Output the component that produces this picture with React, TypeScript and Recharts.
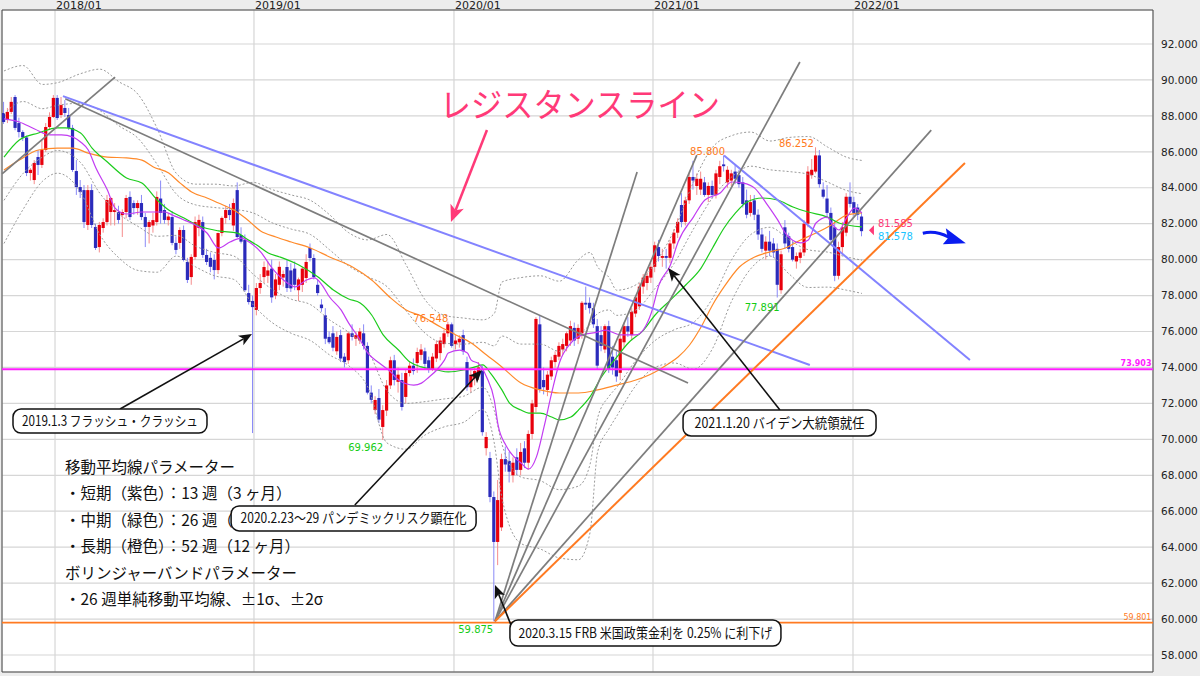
import React from "react";
import {
  ComposedChart,
  Bar,
  Line,
  XAxis,
  YAxis,
  CartesianGrid,
  ReferenceLine,
  ReferenceDot,
  ReferenceArea,
} from "recharts";

// weekly candles, oldest first (index 0 = first week shown)
const opens = [
  88.16, 87.77, 88.22, 89.05, 87.6, 87.1, 86.8, 84.82, 84.43, 85.71,
  85.27, 86.1, 87.38, 87.94, 89.0, 88.05, 88.44, 88.05, 87.33, 84.93,
  84.04, 83.87, 81.93, 83.87, 81.82, 80.7, 81.76, 82.09, 82.65, 82.65,
  82.65, 82.48, 82.65, 83.49, 83.15, 82.87, 83.15, 82.37, 81.82, 81.9,
  82.09, 83.4, 82.76, 82.2, 82.37, 80.93, 80.93, 81.65, 79.87, 79.03,
  80.15, 81.76, 82.09, 80.26, 80.1, 79.98, 79.42, 81.48, 82.32, 82.76,
  81.9, 83.87, 81.37, 81.1, 78.14, 77.7, 77.2, 78.42, 79.03, 79.1,
  79.5, 78.0, 78.6, 79.0, 79.59, 79.4, 79.5, 78.3, 78.6, 78.98,
  80.65, 80.09, 78.6, 77.5, 76.9, 75.7, 75.9, 74.9, 75.8, 74.6,
  74.4, 75.9, 75.6, 75.5, 75.9, 75.2, 72.6, 71.63, 72.3, 70.69,
  71.6, 73.0, 74.4, 73.2, 73.3, 72.36, 73.69, 74.1, 74.25, 74.7,
  74.9, 74.4, 73.9, 74.5, 74.8, 75.3, 75.9, 76.4, 75.3, 75.4,
  75.8, 74.3, 72.9, 73.4, 73.6, 73.8, 69.51, 68.96, 66.79, 64.29,
  65.1, 68.9, 68.8, 68.0, 69.0, 68.3, 69.5, 68.7, 70.3, 71.8,
  76.4, 73.3, 72.75, 73.5, 74.3, 74.6, 75.0, 75.2, 75.5, 76.2,
  75.6, 75.9, 77.6, 77.6, 77.3, 76.3, 75.8, 75.0, 76.3, 74.6,
  74.4, 73.7, 75.4, 76.3, 75.8, 77.0, 77.4, 78.5, 78.7, 79.0,
  79.6, 80.7, 80.1, 80.2, 80.1, 80.9, 81.5, 83.04, 82.1, 83.3,
  84.6, 84.1, 83.9, 84.3, 83.6, 84.1, 83.6, 84.6, 85.3, 84.3,
  84.4, 84.9, 84.7, 84.3, 83.3, 82.6, 83.3, 82.5, 81.4, 80.5,
  81.0, 80.9, 80.6, 78.3, 81.8, 81.3, 80.7, 79.9, 80.1, 80.4,
  82.0, 84.7, 84.9, 85.8, 83.9, 83.4, 82.6, 81.8, 79.1, 80.7,
  81.5, 83.5, 83.2, 82.9, 82.4,
];
const highs = [
  88.78, 88.44, 89.05, 89.16, 87.9, 87.2, 86.9, 85.1, 85.54, 86.1,
  86.66, 87.6, 88.2, 89.16, 89.16, 89.05, 88.88, 88.44, 87.5, 85.54,
  84.43, 84.15, 84.15, 84.2, 82.0, 82.1, 82.3, 83.6, 83.49, 83.15,
  83.0, 82.8, 83.6, 83.8, 83.3, 83.3, 83.6, 82.6, 82.2, 82.6,
  83.8, 84.4, 83.1, 82.6, 82.7, 81.3, 81.8, 81.9, 80.1, 80.3,
  82.4, 82.5, 82.4, 80.6, 80.4, 80.3, 81.5, 82.4, 83.0, 83.1,
  83.4, 84.3, 81.8, 81.4, 78.6, 78.0, 78.7, 79.2, 79.9, 79.9,
  80.0, 79.2, 79.9, 79.4, 80.0, 79.8, 79.9, 79.0, 79.6, 80.3,
  80.9, 80.3, 78.9, 77.8, 77.3, 76.0, 76.3, 76.0, 76.1, 74.8,
  76.0, 76.4, 76.0, 76.2, 76.4, 75.4, 73.0, 72.4, 72.8, 71.9,
  73.3, 74.6, 74.7, 74.0, 73.7, 73.9, 74.3, 74.5, 75.1, 75.3,
  75.1, 74.6, 74.8, 75.5, 75.7, 76.1, 76.548, 76.5, 75.8, 75.8,
  76.1, 74.6, 73.9, 74.0, 74.3, 74.1, 70.4, 69.3, 67.1, 67.74,
  69.2, 69.6, 69.3, 69.0, 69.5, 69.8, 69.9, 70.5, 72.2, 76.8,
  76.9, 74.0, 73.8, 74.6, 74.9, 75.4, 75.6, 76.0, 76.6, 76.5,
  76.4, 77.7, 78.5, 77.9, 77.6, 76.7, 76.3, 76.4, 76.6, 75.2,
  74.9, 75.8, 76.5, 76.8, 77.3, 78.0, 78.7, 79.2, 79.3, 79.8,
  81.0, 81.1, 80.6, 80.6, 81.1, 81.7, 82.3, 83.7, 83.5, 84.8,
  85.5, 84.8, 84.9, 84.6, 84.3, 84.4, 85.0, 85.5, 85.8, 85.2,
  85.0, 85.3, 85.0, 84.6, 83.9, 83.6, 83.6, 82.8, 81.7, 81.3,
  81.6, 81.2, 80.9, 80.5, 82.2, 81.5, 81.0, 80.4, 80.6, 82.2,
  85.2, 85.6, 86.252, 86.1, 84.3, 84.15, 82.9, 82.2, 81.0, 82.1,
  83.7, 84.3, 83.5, 83.1, 82.6,
];
const lows = [
  87.55, 87.6, 88.1, 87.2, 86.8, 86.6, 84.65, 84.4, 84.2, 84.71,
  85.1, 85.99, 87.21, 87.88, 87.77, 87.88, 87.94, 87.21, 84.88, 83.6,
  83.43, 81.76, 81.65, 81.76, 80.54, 80.4, 81.5, 81.9, 81.9, 81.9,
  82.0, 81.26, 82.3, 82.2, 82.5, 82.5, 82.2, 80.7, 80.9, 81.5,
  81.9, 82.0, 82.0, 81.9, 80.8, 80.3, 80.6, 79.9, 78.7, 78.6,
  80.0, 81.3, 80.1, 79.7, 79.3, 78.9, 79.2, 81.3, 82.0, 82.2,
  81.6, 81.2, 80.9, 78.2, 77.5, 70.35, 76.9, 78.1, 78.7, 78.7,
  77.6, 77.8, 78.3, 78.5, 78.2, 78.2, 78.3, 77.7, 78.2, 78.7,
  79.9, 78.9, 78.0, 77.1, 75.3, 75.3, 74.9, 74.7, 74.3, 74.0,
  74.2, 75.5, 75.2, 75.3, 75.0, 72.5, 72.0, 71.4, 70.9, 69.962,
  71.3, 72.8, 73.0, 72.6, 71.6, 72.0, 73.5, 73.6, 73.7, 74.4,
  73.9, 73.7, 73.8, 74.3, 74.4, 75.1, 75.7, 75.1, 75.0, 75.1,
  74.7, 72.7, 72.6, 73.0, 73.3, 70.2, 69.1, 66.5, 59.875, 63.0,
  64.9, 68.2, 67.6, 67.6, 68.0, 68.0, 68.4, 68.3, 70.0, 71.5,
  72.6, 72.5, 72.4, 73.3, 74.0, 74.4, 74.7, 74.9, 75.2, 75.2,
  75.3, 75.6, 77.2, 77.0, 76.2, 73.9, 74.9, 74.8, 73.7, 73.6,
  73.2, 73.3, 75.1, 75.7, 75.5, 76.8, 77.2, 78.1, 78.3, 78.7,
  79.3, 79.9, 79.6, 79.5, 79.8, 80.6, 81.2, 81.8, 81.9, 83.1,
  83.9, 83.6, 83.6, 83.5, 83.2, 83.4, 83.4, 84.2, 84.9, 84.0,
  84.1, 84.2, 84.0, 82.9, 82.3, 82.4, 82.2, 81.1, 80.4, 80.0,
  80.2, 80.1, 77.891, 78.1, 80.6, 80.4, 79.9, 79.5, 79.8, 80.2,
  81.8, 84.5, 84.8, 84.0, 83.4, 82.3, 81.0, 78.8, 78.9, 80.3,
  81.3, 82.9, 82.4, 82.2, 81.3,
];
const closes = [
  87.66, 88.22, 88.78, 87.33, 87.1, 86.8, 84.82, 85.0, 85.38, 85.27,
  86.1, 87.38, 87.94, 89.0, 87.88, 88.6, 88.16, 87.33, 84.99, 84.04,
  83.76, 82.09, 83.87, 81.93, 80.65, 81.93, 82.09, 83.32, 83.43, 82.76,
  82.21, 82.65, 83.43, 82.37, 82.87, 83.15, 82.37, 81.82, 82.09, 82.2,
  83.49, 82.6, 82.21, 82.4, 80.93, 80.54, 81.65, 79.98, 78.87, 80.15,
  82.09, 82.21, 80.26, 79.87, 79.6, 79.42, 81.48, 82.32, 82.76, 82.48,
  83.15, 81.26, 81.0, 78.3, 77.64, 77.36, 78.42, 78.7, 79.59, 79.4,
  77.9, 78.9, 79.6, 79.2, 78.42, 78.4, 78.6, 78.9, 79.5, 79.87,
  80.09, 79.03, 78.14, 77.3, 75.6, 75.4, 75.1, 75.7, 74.5, 74.3,
  75.9, 75.7, 75.8, 76.0, 75.2, 72.6, 72.2, 72.19, 71.1, 71.63,
  73.0, 74.4, 73.3, 73.6, 71.8, 73.69, 74.1, 73.8, 74.86, 75.0,
  74.2, 73.9, 74.6, 75.3, 75.5, 75.9, 76.4, 75.2, 75.5, 75.6,
  74.9, 72.9, 73.6, 73.8, 74.0, 70.4, 70.13, 66.79, 64.29, 66.62,
  68.9, 68.6, 68.2, 68.7, 68.3, 69.3, 68.7, 70.3, 72.0, 76.7,
  72.8, 72.9, 73.6, 74.4, 74.7, 75.2, 75.3, 75.9, 76.3, 75.5,
  76.2, 77.6, 77.5, 77.3, 76.4, 74.1, 75.2, 76.3, 73.9, 74.0,
  73.5, 75.6, 76.3, 76.0, 77.1, 77.9, 78.5, 79.0, 79.1, 79.6,
  80.8, 80.2, 80.2, 80.1, 80.9, 81.5, 82.1, 82.09, 83.3, 84.6,
  84.4, 84.5, 84.5, 83.6, 84.1, 83.6, 84.8, 85.2, 85.2, 85.0,
  84.8, 84.5, 84.2, 83.1, 82.5, 83.2, 82.5, 81.4, 80.6, 81.0,
  80.5, 80.4, 78.6, 80.3, 80.9, 80.6, 80.0, 80.2, 80.4, 82.0,
  84.9, 85.0, 85.8, 84.2, 83.5, 82.6, 81.1, 79.1, 80.7, 81.8,
  83.5, 83.1, 82.6, 82.5, 81.585,
];

// moving averages: [week index, value]
const ma13 = [
  [0, 87.83], [4, 87.66], [8, 87.27], [12, 86.94], [15, 86.94], [18, 86.82], [20, 86.55],
  [22, 86.1], [24, 85.1], [27, 83.87], [29, 82.87], [32, 82.54], [36, 82.65], [42, 82.65],
  [44, 82.48], [47, 82.21], [50, 81.93], [53, 81.48], [56, 80.65], [59, 80.98], [62, 81.2],
  [64, 80.98], [67, 80.43], [70, 79.53], [74, 78.7], [76, 78.48], [79, 78.87], [81, 78.98],
  [83, 78.6], [85, 77.92], [88, 77.2], [90, 76.47], [93, 75.53], [95, 74.8], [98, 74.25],
  [101, 73.75], [103, 73.3], [107, 73.02], [109, 73.13], [111, 73.47], [113, 73.86],
  [115, 74.41], [116, 74.8], [119, 74.97], [121, 74.8], [122, 74.41], [124, 74.2],
  [126, 73.47], [128, 72.19], [129, 70.8], [131, 69.68], [133, 69.07], [135, 68.68],
  [137, 68.35], [139, 69.01], [141, 70.69], [143, 72.58], [145, 74.25], [148, 75.36],
  [151, 75.81], [155, 75.97], [157, 76.08], [161, 75.81], [165, 75.81], [169, 77.03],
  [171, 78.59], [174, 79.7], [176, 80.98], [180, 82.37], [183, 83.32], [187, 83.71],
  [190, 84.32], [193, 84.26], [196, 83.98], [199, 83.15], [202, 82.21], [204, 81.48],
  [208, 80.93], [210, 81.09], [212, 82.04], [215, 82.37], [216, 82.04], [218, 81.65],
  [220, 82.32], [222, 82.87], [224, 82.6],
];
const ma26 = [
  [0, 85.71], [4, 86.66], [9, 87.05], [14, 87.33], [16, 87.33], [20, 87.05], [23, 86.21],
  [27, 85.43], [32, 84.54], [36, 84.26], [40, 83.32], [43, 82.76], [47, 82.32], [51, 81.87],
  [56, 81.6], [61, 81.48], [63, 81.2], [66, 80.81], [69, 80.37], [72, 80.15], [77, 79.7],
  [82, 79.03], [86, 78.31], [90, 77.81], [93, 77.59], [96, 76.92], [99, 75.81], [103, 74.97],
  [106, 74.3], [109, 74.03], [113, 73.86], [116, 73.75], [120, 73.86], [123, 74.03],
  [125, 74.14], [127, 73.69], [130, 72.75], [132, 72.02], [135, 71.63], [137, 71.46],
  [140, 71.46], [143, 71.24], [145, 71.08], [148, 71.24], [150, 71.63], [153, 72.36],
  [156, 73.47], [160, 74.58], [163, 75.36], [167, 76.08], [170, 76.92], [174, 77.75],
  [178, 78.59], [182, 79.53], [185, 80.65], [188, 81.76], [191, 82.6], [194, 83.21],
  [198, 83.43], [202, 83.32], [206, 82.93], [210, 82.65], [215, 82.37], [218, 82.04],
  [224, 81.82],
];
const ma52 = [
  [0, 84.99], [4, 85.54], [9, 86.1], [14, 86.21], [18, 86.21], [22, 85.93], [27, 85.71],
  [32, 85.66], [36, 85.54], [39, 85.16], [43, 84.82], [46, 84.26], [49, 83.76], [53, 83.43],
  [56, 83.15], [60, 82.76], [63, 82.32], [67, 81.6], [71, 81.26], [75, 80.98], [80, 80.65],
  [85, 80.15], [91, 79.59], [96, 78.87], [101, 77.86], [105, 77.2], [109, 76.86],
  [114, 76.25], [118, 75.81], [122, 75.36], [126, 74.69], [130, 74.03], [135, 73.13],
  [140, 72.75], [145, 72.58], [150, 72.58], [155, 72.75], [160, 73.02], [165, 73.3],
  [170, 73.75], [173, 74.14], [176, 74.58], [179, 75.25], [182, 76.25], [185, 77.48],
  [188, 78.48], [192, 79.59], [196, 80.15], [200, 80.43], [204, 80.65], [208, 81.09],
  [212, 81.48], [216, 81.93], [220, 82.48], [224, 82.6],
];

// bollinger bands (26 week, ±1σ, ±2σ) sampled along the chart
const bandWeeks = [
  0, 5, 10, 14, 20, 25, 30, 35, 40, 45, 50, 55, 60, 65, 70, 75, 80, 85, 90, 95, 100, 105,
  110, 115, 120, 125, 128, 130, 135, 140, 145, 150, 153, 155, 158, 160, 165, 170, 175, 180,
  185, 190, 195, 200, 205, 210, 215, 220, 224,
];
const bandUp2 = [
  90.5, 90.8, 89.75, 89.85, 90.35, 90.6, 89.9, 89.2, 87.3, 84.8, 84.2, 84.2, 84.1, 84.3,
  83.9, 83.6, 83.3, 82.5, 81.5, 81.1, 81.4, 79.7, 77.75, 76.9, 76.75, 76.65, 77.0, 78.75,
  79.0, 79.1, 78.8, 80.0, 80.4, 79.6, 79.0, 78.3, 78.6, 79.8, 81.65, 84.3, 86.25, 86.9,
  87.1, 86.6, 86.8, 86.85, 86.27, 85.7, 85.52,
];
const bandUp1 = [
  88.1, 88.8, 88.4, 88.59, 88.7, 88.3, 87.45, 86.75, 85.3, 83.65, 83.05, 82.9, 82.8, 82.6,
  82.05, 81.7, 81.4, 80.55, 79.65, 79.05, 78.5, 77.15, 75.9, 75.35, 75.3, 75.4, 75.2,
  75.75, 75.3, 75.3, 74.9, 75.8, 76.4, 77.0, 77.2, 76.9, 77.2, 78.4, 79.8, 81.7, 83.45,
  84.6, 85.2, 85.0, 84.9, 84.75, 84.32, 83.85, 83.67,
];
const bandLo1 = [
  83.3, 84.8, 85.7, 86.07, 85.4, 83.7, 82.55, 81.85, 81.3, 81.35, 80.75, 80.4, 80.2, 79.2,
  78.35, 77.8, 77.5, 76.65, 75.95, 74.95, 72.7, 72.0, 72.1, 72.25, 72.4, 72.9, 71.6, 69.75,
  67.9, 67.7, 67.2, 67.4, 68.6, 71.2, 72.4, 72.9, 74.4, 75.5, 76.1, 76.5, 77.85, 80.0,
  81.4, 81.8, 81.1, 80.55, 80.42, 80.15, 79.97,
];
const bandLo2 = [
  80.9, 82.8, 84.35, 84.81, 83.75, 81.4, 80.1, 79.4, 79.3, 80.2, 79.6, 79.1, 78.9, 77.5,
  76.5, 75.9, 75.5, 74.7, 74.1, 72.9, 69.8, 69.45, 70.25, 70.7, 70.95, 71.65, 69.8, 66.75,
  64.2, 63.9, 63.4, 63.3, 64.8, 69.3, 70.6, 71.3, 73.0, 74.0, 74.25, 73.9, 75.05, 77.7,
  79.5, 80.2, 79.2, 78.45, 78.47, 78.3, 78.12,
];

const yearTicks = [13.32, 65.27, 117.49, 169.45, 221.67];
const yearLabels = ["2018/01", "2019/01", "2020/01", "2021/01", "2022/01"];
const priceTicks = [58, 60, 62, 64, 66, 68, 70, 72, 74, 76, 78, 80, 82, 84, 86, 88, 90, 92];

const resistanceLevel = 73.903;
const supportLevel = 59.801;
const bidPrice = 81.585;
const askPrice = 81.578;

// hand-drawn trend lines: [week, price] -> [week, price]
const trendLines = [
  { kind: "grey", from: [-0.5, 84.77], to: [29, 90.16] },
  { kind: "grey", from: [16, 88.95], to: [178.6, 73.13] },
  { kind: "blue", from: [15.4, 89.1], to: [210.4, 74.14] },
  { kind: "blue", from: [188, 85.8], to: [252.2, 74.42] },
  { kind: "grey", from: [128.2, 59.875], to: [165.3, 84.88] },
  { kind: "grey", from: [128.2, 59.875], to: [180.9, 85.82] },
  { kind: "grey", from: [128.2, 59.875], to: [207.8, 91.0] },
  { kind: "grey", from: [128.2, 59.875], to: [242.1, 87.21] },
  { kind: "orange", from: [128.2, 59.875], to: [250.9, 85.38] },
];

const arrows = [
  { from: [30.3, 71.69], to: [64.75, 75.86] },
  { from: [91.6, 66.35], to: [124.8, 73.86] },
  { from: [132.9, 59.39], to: [128.2, 61.89] },
  { from: [202.6, 71.63], to: [173.4, 79.53] },
];
const titleArrow = { from: [126.1, 87.21], to: [116.7, 82.09] };

const callouts = [
  { at: [2.35, 71.02], text: "2019.1.3 フラッシュ・クラッシュ" },
  { at: [59.3, 65.6], text: "2020.2.23〜29 パンデミックリスク顕在化" },
  { at: [132.1, 59.22], text: "2020.3.15 FRB 米国政策金利を 0.25% に利下げ" },
  { at: [177.3, 70.91], text: "2021.1.20 バイデン大統領就任" },
];
// box width, box height, text width
const calloutSizes = [
  [194, 24, 176],
  [245, 25, 226],
  [271, 26, 254],
  [193, 26, 170],
];

const peaks = [
  { i: 188, p: 85.8, text: "85.800" },
  { i: 212, p: 86.252, text: "86.252" },
  { i: 116, p: 76.548, text: "76.548" },
  { i: 99, p: 69.962, text: "69.962" },
  { i: 202, p: 77.891, text: "77.891" },
  { i: 128, p: 59.875, text: "59.875" },
];

const legendAt = [15.93, 68.4];
const legendLines = [
  "移動平均線パラメーター",
  "・短期（紫色）：13 週（3 ヶ月）",
  "・中期（緑色）：26 週（6 ヶ月）",
  "・長期（橙色）：52 週（12 ヶ月）",
  "ボリンジャーバンドパラメーター",
  "・26 週単純移動平均線、±1σ、±2σ",
];
const titleAt = [113.8, 88.61];
const titleText = "レジスタンスライン";
const curvedArrowAt = [239.9, 81.47];

const ORANGE = "#ff7a21";
const LABEL_GREEN = "#14cc14";
const PINK = "#ff3a78";
const NUM_FONT = "'DejaVu Sans', sans-serif";
const JP_FONT = "'Noto Sans CJK JP', sans-serif";
const lineColors: Record<string, string> = { grey: "#7d7d7d", blue: "#8383ff", orange: "#ff7a21" };

type Row = { i: number; o: number; h: number; l: number; c: number; [k: string]: number };

const rows: Row[] = opens.map((o, i) => ({ i, o, h: highs[i], l: lows[i], c: closes[i] }));
const put = (key: string, pts: number[][]) => pts.forEach(([i, v]) => (rows[i][key] = v));
put("ma13", ma13);
put("ma26", ma26);
put("ma52", ma52);
bandWeeks.forEach((w, k) => {
  rows[w].up2 = bandUp2[k];
  rows[w].up1 = bandUp1[k];
  rows[w].lo1 = bandLo1[k];
  rows[w].lo2 = bandLo2[k];
});

/**
 * Candle drawn inside the [low, high] range bar, so the bar geometry
 * gives us the pixel scale for open/close.
 */
const Candle = (props: any) => {
  const { x, y, width, height, payload } = props;
  if (!payload) return null;
  const { o, h, l, c } = payload;
  const top = Math.min(y, y + height);
  const bottom = Math.max(y, y + height);
  const k = h === l ? 0 : (bottom - top) / (h - l);
  const py = (v: number) => top + (h - v) * k;
  const cx = x + width / 2;
  const up = c >= o;
  const bTop = py(Math.max(o, c));
  const bBot = py(Math.min(o, c));
  return (
    <g>
      <line x1={cx} x2={cx} y1={top} y2={bottom} stroke={up ? "#f58c8c" : "#8a8af7"} strokeWidth={1} />
      <rect x={cx - 1.6} y={bTop} width={3.2} height={Math.max(1, bBot - bTop)} fill={up ? "#e8000c" : "#2b2bbb"} />
    </g>
  );
};

const arrowShape = (color: string, width: number, head: number) => (p: any) => {
  const { x1, y1, x2, y2 } = p;
  const a = Math.atan2(y2 - y1, x2 - x1);
  const bx = x2 - head * Math.cos(a);
  const by = y2 - head * Math.sin(a);
  const w = head * 0.42;
  const nx = x2 - head * 0.75 * Math.cos(a);
  const ny = y2 - head * 0.75 * Math.sin(a);
  const pts = [
    [x2, y2],
    [bx + w * Math.sin(a), by - w * Math.cos(a)],
    [nx, ny],
    [bx - w * Math.sin(a), by + w * Math.cos(a)],
  ]
    .map((q) => q.join(","))
    .join(" ");
  return (
    <g>
      <line x1={x1} y1={y1} x2={nx} y2={ny} stroke={color} strokeWidth={width} />
      <polygon points={pts} fill={color} />
    </g>
  );
};

const YearTick = ({ x, payload }: any) => (
  <text x={x + 1} y={9} fontSize={11} fontFamily={NUM_FONT} fill="#222">
    {yearLabels[yearTicks.indexOf(payload.value)]}
  </text>
);

const App: React.FC = () => {
  return (
    <div style={{ position: "absolute", left: 0, top: 0, width: 1200, height: 676, background: "#ededed" }}>
      <ComposedChart width={1200} height={676} data={rows} margin={{ top: 0, right: 0, bottom: 4, left: 2 }}>
        <CartesianGrid stroke="#d6d6d6" strokeWidth={1.2} fill="#ffffff" />
        <XAxis
          dataKey="i"
          type="number"
          orientation="top"
          domain={[-0.52, 300]}
          ticks={yearTicks}
          interval={0}
          height={10}
          tick={<YearTick />}
          tickLine={false}
          axisLine={false}
          allowDataOverflow
        />
        <YAxis
          orientation="right"
          type="number"
          domain={[57.053, 93.892]}
          ticks={priceTicks}
          interval={0}
          width={47}
          tickLine={false}
          axisLine={false}
          allowDataOverflow
          tick={{ fontSize: 10.5, fill: "#222", fontFamily: NUM_FONT }}
          tickFormatter={(v: number) => v.toFixed(3)}
        />

        <Bar dataKey={(d: Row) => [d.l, d.h]} shape={Candle} barSize={3} isAnimationActive={false} />

        {["up2", "up1", "lo1", "lo2"].map((k) => (
          <Line
            key={k}
            dataKey={k}
            type="monotone"
            stroke="#9a9a9a"
            strokeWidth={1}
            strokeDasharray="2 2"
            dot={false}
            connectNulls
            isAnimationActive={false}
          />
        ))}
        <Line dataKey="ma52" type="monotone" stroke="#ff8a2a" strokeWidth={1.2} dot={false} connectNulls isAnimationActive={false} />
        <Line dataKey="ma26" type="monotone" stroke="#1ccc1c" strokeWidth={1.2} dot={false} connectNulls isAnimationActive={false} />
        <Line dataKey="ma13" type="monotone" stroke="#c23cf2" strokeWidth={1.2} dot={false} connectNulls isAnimationActive={false} />

        <ReferenceLine y={resistanceLevel} stroke="#ff1cff" strokeWidth={2} ifOverflow="visible" />
        <ReferenceLine y={supportLevel} stroke={ORANGE} strokeWidth={1.8} ifOverflow="visible" />

        {trendLines.map((t, n) => (
          <ReferenceLine
            key={"t" + n}
            segment={[
              { x: t.from[0], y: t.from[1] },
              { x: t.to[0], y: t.to[1] },
            ]}
            stroke={lineColors[t.kind]}
            strokeWidth={t.kind === "grey" ? 1.7 : 2}
            ifOverflow="visible"
          />
        ))}

        {/* parameter notes */}
        <ReferenceDot
          x={legendAt[0]}
          y={legendAt[1]}
          ifOverflow="visible"
          shape={(p: any) => (
            <g>
              {legendLines.map((s, n) => (
                <text key={n} x={p.cx} y={p.cy + 5 + n * 26.4} fontSize={15.5} fontFamily={JP_FONT} fill="#111">
                  {s}
                </text>
              ))}
            </g>
          )}
        />

        {arrows.map((a, n) => (
          <ReferenceLine
            key={"a" + n}
            segment={[
              { x: a.from[0], y: a.from[1] },
              { x: a.to[0], y: a.to[1] },
            ]}
            ifOverflow="visible"
            shape={arrowShape("#111", 1.6, 13)}
          />
        ))}
        <ReferenceLine
          segment={[
            { x: titleArrow.from[0], y: titleArrow.from[1] },
            { x: titleArrow.to[0], y: titleArrow.to[1] },
          ]}
          ifOverflow="visible"
          shape={arrowShape(PINK, 2.5, 17)}
        />

        {callouts.map((c, n) => {
          const [w, h, tw] = calloutSizes[n];
          return (
            <ReferenceDot
              key={"c" + n}
              x={c.at[0]}
              y={c.at[1]}
              ifOverflow="visible"
              shape={(p: any) => (
                <g>
                  <rect x={p.cx} y={p.cy - h / 2} width={w} height={h} rx={8} fill="#fff" stroke="#111" strokeWidth={1.5} />
                  <text
                    x={p.cx + (w - tw) / 2}
                    y={p.cy + 5}
                    fontSize={14}
                    fontFamily={JP_FONT}
                    fill="#111"
                    textLength={tw}
                    lengthAdjust="spacingAndGlyphs"
                  >
                    {c.text}
                  </text>
                </g>
              )}
            />
          );
        })}

        <ReferenceDot
          x={titleAt[0]}
          y={titleAt[1]}
          ifOverflow="visible"
          shape={(p: any) => (
            <text
              x={p.cx}
              y={p.cy + 12}
              fontSize={33}
              fontFamily={JP_FONT}
              fill={PINK}
              textLength={280}
              lengthAdjust="spacingAndGlyphs"
            >
              {titleText}
            </text>
          )}
        />

        {peaks.map((k, n) => {
          const below = n >= 3;
          const dy = [0, 0, 0, 11, 13, 12][n];
          const dx = [1, -2, 0, 0, 2, -1][n];
          return (
            <ReferenceDot
              key={"p" + n}
              x={k.i}
              y={k.p}
              ifOverflow="visible"
              shape={(p: any) => (
                <text
                  x={p.cx + dx}
                  y={p.cy + dy}
                  textAnchor="end"
                  fontSize={10}
                  fontFamily={NUM_FONT}
                  fill={below ? LABEL_GREEN : ORANGE}
                >
                  {k.text}
                </text>
              )}
            />
          );
        })}

        {/* last price marker */}
        <ReferenceDot
          x={rows.length - 1}
          y={bidPrice}
          ifOverflow="visible"
          shape={(p: any) => (
            <g>
              <polygon
                points={`${p.cx + 7},${p.cy - 1} ${p.cx + 12},${p.cy - 6} ${p.cx + 12},${p.cy + 4}`}
                fill={PINK}
              />
              <text x={p.cx + 16} y={p.cy - 4} fontSize={10} fontFamily={NUM_FONT} fill={PINK}>
                {bidPrice.toFixed(3)}
              </text>
              <text x={p.cx + 16} y={p.cy + 9} fontSize={10} fontFamily={NUM_FONT} fill="#1cc4ff">
                {askPrice.toFixed(3)}
              </text>
            </g>
          )}
        />

        <ReferenceDot
          x={curvedArrowAt[0]}
          y={curvedArrowAt[1]}
          ifOverflow="visible"
          shape={(p: any) => (
            <g transform={`translate(${p.cx},${p.cy})`}>
              <path d="M0,0 Q13,-3 26,4" fill="none" stroke="#0a1cf0" strokeWidth={3} />
              <polygon points="23,-5 43,10 20,11 25,5" fill="#0a1cf0" />
            </g>
          )}
        />

        {/* level tags at the right edge */}
        <ReferenceDot
          x={299.6}
          y={resistanceLevel}
          ifOverflow="visible"
          shape={(p: any) => (
            <text x={p.cx} y={p.cy - 3} textAnchor="end" fontSize={8} fontWeight="bold" fontFamily={NUM_FONT} fill="#ff1cff">
              {resistanceLevel.toFixed(3)}
            </text>
          )}
        />
        <ReferenceDot
          x={299.6}
          y={supportLevel}
          ifOverflow="visible"
          shape={(p: any) => (
            <text x={p.cx} y={p.cy - 3} textAnchor="end" fontSize={8} fontFamily={NUM_FONT} fill={ORANGE}>
              {supportLevel.toFixed(3)}
            </text>
          )}
        />

        <ReferenceArea
          x1={-0.52}
          x2={300}
          y1={57.053}
          y2={93.892}
          fill="none"
          fillOpacity={0}
          stroke="#4a4a4a"
          strokeWidth={1}
          ifOverflow="visible"
        />
      </ComposedChart>
    </div>
  );
};

export default App;
